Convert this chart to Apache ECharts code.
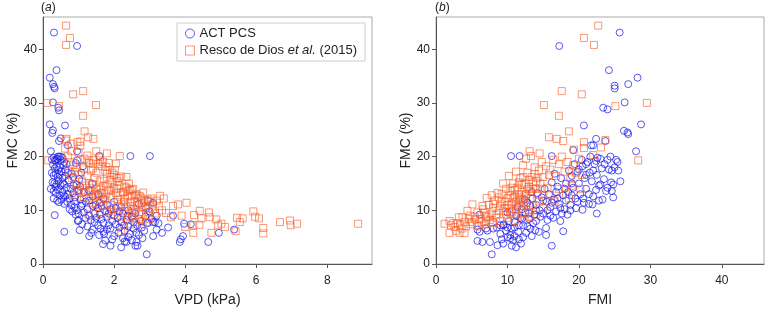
<!DOCTYPE html>
<html>
<head>
<meta charset="utf-8">
<script src="https://cdn.jsdelivr.net/npm/echarts@6/dist/echarts.min.js"></script>
<style>
  html, body { margin: 0; padding: 0; background: #fff; }
  #chart { width: 766px; height: 312px; }
</style>
</head>
<body>
<div id="chart"></div>
<script>
// (a) FMC vs VPD, ACT PCS
const actVpd = [
  [0.31,43.1],[0.96,40.6],[0.38,36.1],[0.19,34.7],[0.28,33.5],[0.31,33.0],[0.33,32.7],[0.28,30.1],[0.43,29.1],[0.45,28.6],
  [0.19,26.0],[0.62,25.8],[0.28,24.9],[0.26,24.4],[0.5,23.4],[0.45,22.9],[0.7,22.1],[0.22,21.0],[0.96,21.0],[0.5,20.0],
  [0.4,19.5],[0.33,19.3],[1.58,20.1],[2.46,20.1],[3.01,20.1],[0.96,19.3],
  [0.6,6.0],[1.03,6.3],[1.3,5.2],[1.36,5.8],[1.69,3.7],[1.9,3.4],[2.2,3.1],[2.35,4.1],[2.63,4.1],[2.66,3.4],[2.92,1.8],
  [3.1,5.2],[3.35,5.8],[3.52,6.8],[3.85,4.1],[3.88,4.6],[3.94,5.2],[4.16,7.4],[4.65,4.1],[4.95,5.8],[5.38,6.4],[3.66,9.0],
  [3.97,7.5],[3.1,7.8],[1.0,8.1],[0.33,9.1],
  [0.25,19.5],[0.3,19.8],[0.35,19.2],[0.4,19.6],[0.45,20.0],[0.5,19.4],[0.55,19.8],[0.6,19.0],[0.28,18.5],[0.33,17.8],
  [0.38,18.2],[0.43,17.5],[0.48,18.0],[0.52,17.2],[0.58,18.4],[0.63,17.6],[0.25,17.0],[0.3,16.5],[0.36,16.8],[0.42,16.2],
  [0.47,16.6],[0.55,16.0],[0.62,16.4],[0.7,17.0],[0.27,15.2],[0.32,15.0],[0.38,14.8],[0.44,15.4],[0.5,14.6],[0.56,15.0],
  [0.65,14.2],[0.72,15.6],[0.22,14.0],[0.3,13.6],[0.36,13.2],[0.42,13.8],[0.48,12.8],[0.55,13.4],[0.62,12.6],[0.7,13.0],
  [0.3,12.2],[0.4,11.8],[0.45,11.5],[0.52,12.0],[0.6,11.2],[0.68,11.6],[0.75,12.2],[0.8,11.0],
  [0.78,14.0],[0.85,13.2],[0.9,12.4],[0.95,14.8],[1.0,13.6],[1.05,12.0],[1.1,11.2],[0.88,10.6],[0.95,10.0],[1.0,9.4],
  [1.08,10.8],[1.15,9.6],[0.82,9.8],[0.92,9.2],[1.2,11.6],[1.25,10.2],[1.3,9.0],[1.35,8.2],[1.4,10.8],[1.45,9.4],
  [1.3,11.8],[1.4,12.6],[1.5,8.6],[0.98,8.0],[1.2,8.6],[1.02,15.8],[1.08,17.0],[0.85,16.2],[1.12,18.2],[0.92,18.8],
  [1.55,10.4],[1.6,9.2],[1.65,8.4],[1.7,7.6],[1.75,9.8],[1.8,8.8],[1.85,7.2],[1.9,10.2],[1.95,8.0],[2.0,9.0],
  [2.05,7.4],[2.1,8.6],[2.15,6.8],[2.2,7.8],[2.25,9.4],[2.3,6.2],[2.35,8.2],[2.4,7.0],[2.45,5.6],[2.5,8.8],
  [1.7,6.0],[1.72,5.6],[1.75,4.4],[1.8,6.4],[2.0,5.2],[2.25,4.8],[2.3,4.2],[2.4,5.0],[2.5,4.4],[1.6,11.4],
  [1.7,12.2],[1.8,11.0],[2.0,11.6],[2.2,10.6],[2.4,10.0],[1.55,13.0],[1.62,6.6],
  [2.55,6.6],[2.6,9.4],[2.65,7.2],[2.7,5.4],[2.75,8.0],[2.8,4.8],[2.85,6.2],[2.9,10.4],[2.95,7.6],[3.0,9.8],
  [3.05,8.4],[3.15,7.8],[3.2,6.4],[3.25,7.6],[2.7,11.2],[2.95,11.8],[3.1,11.4],[2.6,3.4],
  [1.1,7.4],[1.25,7.0],[1.45,7.8],[1.55,7.2],[1.65,10.8],[1.85,9.4],[1.9,6.6],[2.05,10.4],[2.15,9.8],[2.28,7.2],
  [2.38,9.0],[2.55,7.8],[2.62,5.8],[2.78,6.8],[2.88,8.8],[3.2,9.0],[1.4,6.4],[1.58,5.4],[1.95,4.6],[2.12,5.8],
  [0.9,11.6],[1.15,13.4],[1.28,13.8],[1.38,15.0],[1.48,11.0],[0.6,14.8],[0.66,18.6],[0.35,14.4],[0.42,20.0],[0.58,12.8],
  [0.8,16.8],[0.75,10.2],[1.05,14.4],[0.86,14.6]
];

// (a) FMC vs VPD, Resco de Dios et al. (2015)
const rescoVpd = [
  [0.65,44.4],[0.76,42.1],[0.65,40.8],[0.85,31.6],[1.13,32.2],[0.45,29.4],[0.12,30.0],[1.49,29.6],[1.13,27.6],[1.17,24.7],
  [1.27,23.6],[1.42,23.3],[0.66,23.3],[0.97,22.7],[1.05,22.8],[0.15,19.3],[1.5,21.0],[1.8,20.6],[2.16,20.1],[2.05,18.7],
  [3.66,10.8],[3.8,11.1],[4.04,11.4],[4.41,9.9],[4.46,8.5],[4.67,9.6],[4.69,8.7],[4.74,5.8],[4.88,8.3],[4.93,7.2],
  [5.02,7.5],[5.12,6.9],[5.42,6.1],[5.46,8.6],[5.54,7.8],[5.62,8.5],[5.92,9.8],[5.97,8.8],[6.08,8.5],[6.2,6.7],
  [6.2,5.7],[6.67,7.8],[6.95,8.1],[6.97,7.2],[7.15,7.5],[8.87,7.5],
  [4.23,5.8],[4.0,6.9],[4.23,7.2],[4.4,7.3],[4.25,9.1],[3.9,9.0],[3.6,8.7],[3.46,9.5],[3.26,10.8],[3.29,12.7],
  [3.4,12.2],[3.1,11.1],[3.05,12.2],[2.96,12.0],[2.82,13.3],[2.72,12.7],[2.63,13.0],[2.54,14.0],[2.44,13.9],[2.35,14.2],
  [2.27,13.3],[2.2,16.3],[2.07,16.0],[2.02,17.5],[1.88,17.5],[1.78,18.1],[1.69,19.0],[1.6,19.3],[1.41,18.7],[1.3,19.3],
  [1.17,19.6],
  [0.62,21.5],[0.7,20.0],[0.75,19.0],[0.8,21.0],[0.85,18.4],[0.9,17.2],[0.95,18.0],[1.0,16.6],[1.05,19.4],[1.1,15.4],
  [1.15,17.8],[1.2,14.6],[0.72,17.4],[0.82,16.0],[0.92,14.8],[1.0,13.8],[1.08,13.2],[1.15,12.4],[0.88,12.8],[0.95,13.8],
  [0.8,22.4],[1.0,20.8],[1.05,22.0],[0.65,23.0],
  [1.25,16.4],[1.3,15.0],[1.35,13.6],[1.4,14.8],[1.45,16.0],[1.5,14.0],[1.55,12.8],[1.6,15.4],[1.65,13.2],[1.7,14.6],
  [1.75,12.0],[1.8,16.8],[1.85,13.8],[1.9,12.6],[1.95,15.2],[2.0,14.2],[1.3,12.2],[1.4,11.4],[1.5,10.6],[1.6,9.6],
  [1.7,10.8],[1.8,9.8],[1.9,11.0],[2.0,10.2],[1.35,17.4],[1.5,17.0],[1.65,18.2],[1.75,17.4],[1.85,18.8],[1.95,17.0],
  [1.28,9.2],[1.45,12.4],[1.62,11.6],[1.78,13.0],[1.55,18.6],[1.42,19.4],[1.3,18.8],[1.25,20.2],[1.6,20.0],
  [2.05,13.2],[2.1,12.0],[2.15,14.6],[2.2,11.2],[2.25,13.4],[2.3,12.2],[2.35,10.6],[2.4,13.6],[2.45,11.6],[2.5,12.6],
  [2.55,10.2],[2.6,12.8],[2.65,11.0],[2.7,9.6],[2.75,12.4],[2.8,10.6],[2.85,11.8],[2.9,9.0],[2.95,10.4],[3.0,11.6],
  [2.1,9.6],[2.2,8.8],[2.3,9.8],[2.4,8.2],[2.5,9.6],[2.6,7.8],[2.7,8.4],[2.8,7.4],[2.9,7.8],[2.15,16.0],
  [2.3,14.4],[2.5,13.8],[2.2,6.0],[2.45,7.4],[2.1,15.4],[2.35,16.2],
  [1.32,14.2],[1.48,13.0],[1.58,14.4],[1.68,12.4],[1.82,14.8],[1.92,13.6],[2.08,14.0],[2.18,12.8],[2.28,11.6],[2.38,12.6],
  [2.48,10.8],[2.58,11.6],[2.68,12.2],[2.78,11.4],[2.88,10.8],[2.98,9.6],[3.1,10.2],[3.2,11.8],[3.35,10.0],[1.72,15.8],
  [1.88,15.6],[2.0,16.6],[2.42,15.0],[1.2,13.4],[1.4,17.8],[2.6,10.0],[2.75,9.2],[3.0,8.4],[3.15,9.4],[1.62,13.8],
  [1.92,9.2],[2.12,10.8],[2.52,8.6]
];

// (b) FMC vs FMI, ACT PCS
const actFmi = [
  [25.7,43.1],[17.25,40.6],[24.2,36.1],[28.2,34.7],[25.0,33.2],[25.0,32.7],[26.9,33.5],[23.4,29.1],[24.0,28.8],[26.4,30.1],
  [28.7,26.0],[20.7,25.8],[26.3,24.8],[26.8,24.5],[26.9,24.2],[22.4,23.3],[23.7,22.9],[21.7,22.1],[22.0,22.1],[19.2,21.2],
  [28.0,21.0],[10.5,20.1],[11.7,20.1],[16.2,20.1],[6.1,9.2],[5.8,6.4],[6.1,6.0],[5.8,4.3],[6.5,4.1],[7.55,4.1],
  [7.8,1.8],[7.0,6.6],[8.6,3.5],[9.4,7.2],[11.2,3.1],[11.9,3.8],[13.4,5.2],[13.9,6.3],[15.4,5.4],[15.4,6.7],
  [16.2,3.4],[17.8,6.1],[20.5,10.1],[22.5,9.4],[20.7,11.4],[21.9,11.1],
  [8.5,6.8],[9.0,5.6],[9.2,4.6],[9.5,7.4],[9.8,6.2],[10.0,5.0],[10.2,8.0],[10.5,6.6],[10.8,4.4],[11.0,7.8],
  [11.2,9.0],[11.5,6.0],[11.8,8.6],[12.0,10.2],[12.2,7.2],[12.5,9.6],[12.8,11.4],[13.0,8.4],[13.2,10.8],[13.5,12.2],
  [13.8,9.2],[14.0,11.0],[14.2,13.2],[14.5,10.0],[14.8,12.4],[15.0,9.4],[15.2,14.0],[15.5,11.6],[15.8,13.0],[16.0,10.6],
  [16.2,15.2],[16.5,12.0],[16.8,9.8],[17.0,14.4],[17.2,11.2],[17.5,16.0],[17.8,12.8],[18.0,10.2],[18.2,15.0],[18.5,13.4],
  [18.8,11.0],[19.0,16.4],[19.2,14.2],[19.5,12.2],[19.8,17.2],[20.0,15.0],[20.2,13.0],[20.5,18.2],[20.8,16.0],[21.0,14.0],
  [21.2,19.0],[21.5,17.0],[21.8,15.4],[22.0,12.6],[22.2,18.6],[22.5,16.6],[22.8,14.6],[23.0,19.6],[23.2,17.8],[23.5,15.8],
  [23.8,13.6],[24.0,19.4],[24.2,17.6],[24.5,15.2],[24.8,12.4],[25.0,18.0],[25.2,19.4],[25.5,17.4],[25.8,15.4],[23.3,12.0],
  [22.8,11.8],[24.6,13.6],[10.4,5.4],[12.6,5.8],[13.2,6.6],[14.0,8.0],[11.6,4.6],[12.2,5.0],[9.4,3.8],[10.6,3.4],
  [11.0,6.8],[13.6,7.6],[14.6,8.8],[16.4,8.6],[17.4,8.0],[18.4,9.2],[19.6,10.4],[15.6,8.2],[9.0,7.2],[8.0,6.6],
  [7.2,6.2],[10.0,9.6],[11.4,10.6],[12.4,12.0],[13.4,13.4],[16.6,16.8],[18.6,17.4],[19.4,18.6],[20.4,19.4],[21.6,20.0],
  [22.6,19.8],[24.4,20.0],
  [15.6,10.0],[16.2,11.4],[16.8,13.4],[17.4,10.4],[18.2,11.8],[19.0,12.8],[19.8,11.6],[20.6,12.2],[21.4,13.0],[21.4,11.2],
  [22.4,13.8],[23.0,14.8],[24.0,14.2],[24.8,14.8],[25.4,19.0],[24.6,17.4],[23.6,18.6],[22.0,17.4],[21.0,16.6],[20.0,17.6],
  [19.0,15.0],[18.0,14.0],[17.0,12.2],[15.0,11.8],[14.0,10.0],[13.0,9.4],[12.0,8.4],[11.0,5.2],[10.0,6.8],[12.8,7.0],
  [14.4,6.0],[16.0,9.0],[17.6,9.4],[18.8,10.0],[21.0,18.6],[22.4,19.2],[11.6,7.2],[10.4,4.8]
];

// (b) FMC vs FMI, Resco de Dios et al. (2015)
const rescoFmi = [
  [22.7,44.4],[20.7,42.1],[22.1,40.8],[17.6,32.2],[20.4,31.6],[15.1,29.6],[17.2,27.6],[25.1,29.4],[29.5,30.0],[28.3,19.3],
  [18.6,24.7],[15.8,23.6],[16.9,23.3],[17.8,22.9],[20.7,22.7],[20.7,21.6],[23.1,21.7],[23.7,23.1],[13.1,21.0],[13.3,20.1],
  [14.5,20.6],[19.3,21.3],[22.0,20.3],
  [1.2,7.5],[1.9,8.0],[1.9,5.8],[3.3,5.8],[4.0,5.8],[2.1,7.2],[2.6,6.9],[3.2,8.7],[3.7,8.7],[4.4,9.9],
  [5.1,11.1],[4.8,9.0],[5.5,8.3],[6.5,10.8],[7.1,12.3],[7.8,12.8],[7.2,8.7],[7.9,7.8],
  [5.8,9.6],[6.2,8.4],[6.6,10.2],[7.0,9.0],[7.4,11.0],[7.6,8.2],[8.0,10.4],[8.2,11.8],[8.5,9.2],[8.8,12.4],
  [9.0,10.8],[9.2,13.0],[9.4,9.8],[9.6,11.6],[9.8,14.0],[10.0,12.2],[10.2,10.4],[10.4,13.6],[10.6,11.2],[10.8,15.0],
  [11.0,12.6],[11.2,10.0],[11.4,14.2],[11.6,12.0],[11.8,16.0],[12.0,13.4],[12.2,11.4],[12.4,15.0],[12.6,13.0],[12.8,17.0],
  [13.0,14.4],[13.2,12.2],[13.4,16.2],[13.6,14.0],[13.8,18.0],[14.0,15.4],[14.2,13.0],[14.4,17.4],[14.6,15.0],[14.8,19.0],
  [15.0,16.2],[15.4,18.2],[15.6,14.2],[16.0,17.6],[16.4,19.4],[16.8,16.4],[17.2,18.6],[17.6,20.0],[18.0,17.2],[18.4,19.0],
  [18.8,16.0],[19.2,18.4],[19.6,17.0],[20.0,19.6],[20.4,16.6],[10.0,8.6],[11.0,8.0],[12.0,9.4],[13.0,10.0],[14.0,9.2],
  [15.0,10.4],[10.6,9.6],[11.8,10.8],[12.4,8.2],[13.6,11.0],[9.0,8.0],[8.0,7.6],[8.6,13.2],[9.4,15.0],[10.2,16.4],
  [11.2,17.2],[12.2,18.4],[12.6,19.6],[11.4,9.0],[13.2,8.8],[14.4,11.6],[16.0,12.8],[17.2,14.0],[18.2,13.0],[19.0,14.6],
  [20.2,14.0],[16.6,11.8],[18.6,12.2],[12.0,14.8],[11.0,13.8],[10.4,12.8],[13.8,16.8],[14.8,14.0],[15.8,16.6],[3.0,7.6],
  [4.2,7.0],[3.6,6.6],[5.0,7.8],[4.6,8.4],[2.8,6.2],[6.0,7.0],[6.8,7.4],
  [9.2,11.6],[9.6,10.4],[10.0,11.0],[10.4,9.6],[10.8,12.2],[11.2,11.6],[11.6,13.0],[12.0,11.8],[12.4,12.8],[12.8,14.0],
  [13.2,13.6],[13.6,15.2],[14.0,14.0],[11.8,12.4],[11.4,11.0],[12.6,11.0],[10.6,10.2],[9.8,9.2],[8.8,10.0],[8.4,8.6],
  [7.8,9.4],[7.0,8.0],[6.4,7.8],[5.4,8.8],[4.8,7.4],[4.0,7.8],[3.4,7.2],[2.4,7.6],[5.8,7.2],[6.8,9.6],
  [8.0,11.2],[12.2,16.2],[13.0,15.6],[14.2,16.0],[10.6,14.2],[11.6,15.2]
];

const vpdTicks = [0, 2, 4, 6, 8];
const fmiTicks = [0, 10, 20, 30, 40];
const fmcTicks = [0, 10, 20, 30, 40];

const FONT = '"Liberation Sans", Arial, Helvetica, sans-serif';
const BLUE = 'rgba(25,25,235,0.9)';
const ORANGE = 'rgba(250,90,35,0.78)';

const chart = echarts.init(document.getElementById('chart'));

function xAxis(idx, max, ticks, name) {
  return {
    type: 'value', gridIndex: idx, min: 0, max: max,
    name: name, nameLocation: 'middle', nameGap: 29,
    nameTextStyle: { fontFamily: FONT, fontSize: 14, color: '#222' },
    axisLine: { show: true, lineStyle: { color: '#555', width: 1 } },
    axisTick: { show: true, inside: false, length: 4, customValues: ticks, lineStyle: { color: '#555' } },
    axisLabel: { customValues: ticks, margin: 11, fontFamily: FONT, fontSize: 12, color: '#222' },
    splitLine: { show: false }
  };
}

function yAxis(idx) {
  return {
    type: 'value', gridIndex: idx, min: 0, max: 46,
    name: 'FMC (%)', nameLocation: 'middle', nameGap: 23, nameRotate: 90,
    nameTextStyle: { fontFamily: FONT, fontSize: 14, color: '#222' },
    axisLine: { show: true, lineStyle: { color: '#555', width: 1 } },
    axisTick: { show: true, inside: false, length: 4, customValues: fmcTicks, lineStyle: { color: '#555' } },
    axisLabel: { customValues: fmcTicks, margin: 6, fontFamily: FONT, fontSize: 12, color: '#222' },
    splitLine: { show: false }
  };
}

function scatter(name, data, idx, symbol, stroke) {
  return {
    name: name, type: 'scatter', xAxisIndex: idx, yAxisIndex: idx,
    data: data, symbol: symbol, symbolSize: 7,
    itemStyle: { color: 'rgba(0,0,0,0)', borderColor: stroke, borderWidth: 1 },
    emphasis: { disabled: true },
    animation: false
  };
}

const option = {
  backgroundColor: '#fff',
  animation: false,
  grid: [
    { left: 43, top: 17, width: 329, height: 252, show: true, borderColor: '#aaa', borderWidth: 1 },
    { left: 436, top: 17, width: 328, height: 252, show: true, borderColor: '#aaa', borderWidth: 1 }
  ],
  xAxis: [xAxis(0, 9.26, vpdTicks, 'VPD (kPa)'), xAxis(1, 45.9, fmiTicks, 'FMI')],
  yAxis: [yAxis(0), yAxis(1)],
  legend: {
    orient: 'vertical', left: 177, top: 23,
    padding: [4, 8, 4, 8], itemGap: 4, itemWidth: 9, itemHeight: 9,
    borderColor: '#ccc', borderWidth: 1, backgroundColor: '#fff',
    textStyle: {
      fontFamily: FONT, fontSize: 13, color: '#222',
      rich: {
        n: { fontFamily: FONT, fontSize: 13, color: '#222' },
        i: { fontFamily: FONT, fontSize: 13, color: '#222', fontStyle: 'italic' }
      }
    },
    formatter: function (name) {
      if (name === 'ACT PCS') return '{n|ACT PCS}';
      return '{n|Resco de Dios }{i|et al.}{n| (2015)}';
    },
    data: [
      { name: 'ACT PCS', icon: 'circle', itemStyle: { color: 'rgba(0,0,0,0)', borderColor: BLUE, borderWidth: 1 } },
      { name: 'Resco de Dios et al. (2015)', icon: 'rect', itemStyle: { color: 'rgba(0,0,0,0)', borderColor: ORANGE, borderWidth: 1 } }
    ]
  },
  graphic: [
    { type: 'text', left: 41, top: 2, style: { text: '({i|a})', fontFamily: FONT, fontSize: 12, fill: '#222', rich: { i: { fontStyle: 'italic', fontFamily: FONT, fontSize: 12, fill: '#222' } } } },
    { type: 'text', left: 435, top: 2, style: { text: '({i|b})', fontFamily: FONT, fontSize: 12, fill: '#222', rich: { i: { fontStyle: 'italic', fontFamily: FONT, fontSize: 12, fill: '#222' } } } }
  ],
  series: [
    scatter('ACT PCS', actVpd, 0, 'circle', BLUE),
    scatter('Resco de Dios et al. (2015)', rescoVpd, 0, 'rect', ORANGE),
    scatter('ACT PCS', actFmi, 1, 'circle', BLUE),
    scatter('Resco de Dios et al. (2015)', rescoFmi, 1, 'rect', ORANGE)
  ]
};

chart.setOption(option);
</script>
</body>
</html>
